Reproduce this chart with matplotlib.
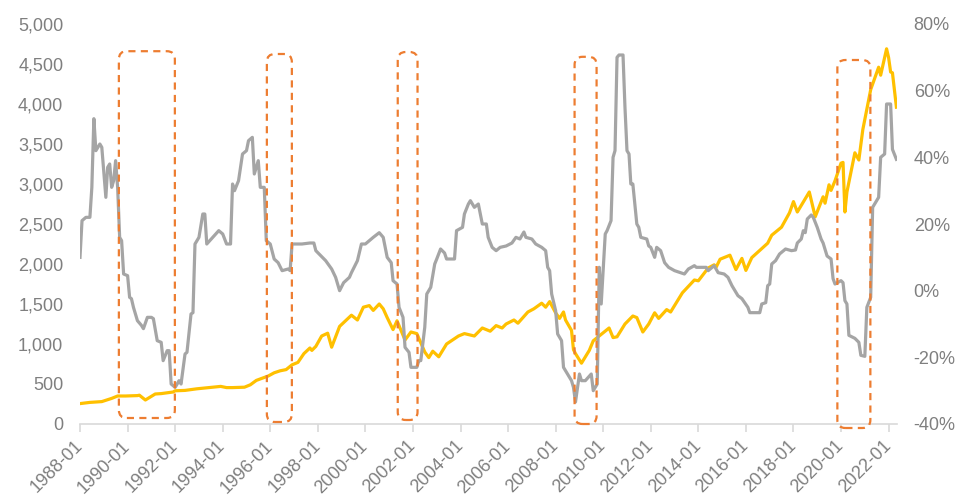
import matplotlib
matplotlib.use("Agg")
import matplotlib.pyplot as plt
import matplotlib.dates as mdates
from matplotlib.patches import FancyBboxPatch
from matplotlib.transforms import IdentityTransform
from matplotlib.ticker import FuncFormatter, MultipleLocator
import pandas as pd

# Index level (left axis)
index_dates = [
    "1988-01", "1988-06", "1988-12", "1989-05", "1989-08", "1989-12", "1990-06", "1990-07",
    "1990-10", "1990-12", "1991-03", "1991-06", "1991-12", "1992-01", "1992-06", "1992-12",
    "1993-06", "1993-09", "1993-12", "1994-03", "1994-06", "1994-12", "1995-03", "1995-06",
    "1995-12", "1996-03", "1996-06", "1996-09", "1996-12", "1997-03", "1997-06", "1997-09",
    "1997-10", "1997-12", "1998-03", "1998-06", "1998-08", "1998-12", "1999-03", "1999-06",
    "1999-09", "1999-12", "2000-03", "2000-05", "2000-08", "2000-10", "2000-12", "2001-03",
    "2001-05", "2001-06", "2001-09", "2001-12", "2002-03", "2002-07", "2002-09", "2002-11",
    "2003-02", "2003-06", "2003-12", "2004-03", "2004-08", "2004-12", "2005-04", "2005-07",
    "2005-10", "2005-12", "2006-04", "2006-06", "2006-11", "2007-02", "2007-06", "2007-08",
    "2007-10", "2008-01", "2008-03", "2008-05", "2008-06", "2008-09", "2008-10", "2008-11",
    "2009-02", "2009-06", "2009-08", "2009-12", "2010-04", "2010-06", "2010-08", "2010-12",
    "2011-04", "2011-06", "2011-09", "2011-12", "2012-03", "2012-05", "2012-09", "2012-11",
    "2013-05", "2013-11", "2014-01", "2014-06", "2014-09", "2014-10", "2014-12", "2015-05",
    "2015-08", "2015-11", "2016-01", "2016-04", "2016-08", "2016-12", "2017-02", "2017-07",
    "2017-11", "2018-01", "2018-03", "2018-09", "2018-12", "2019-04", "2019-05", "2019-07",
    "2019-08", "2019-10", "2020-01", "2020-02", "2020-03", "2020-04", "2020-08", "2020-10",
    "2020-12", "2021-04", "2021-08", "2021-09", "2021-12", "2022-01", "2022-02", "2022-03",
    "2022-05",
]
index_values = [
    255, 270, 280, 320, 350, 350, 355, 360,
    300, 330, 375, 380, 400, 415, 420, 440,
    455, 462, 470, 455, 455, 460, 490, 545,
    600, 640, 665, 680, 740, 770, 880, 950,
    920, 970, 1100, 1135, 960, 1220, 1290, 1360,
    1300, 1460, 1480, 1420, 1500, 1440, 1330, 1180,
    1290, 1230, 1050, 1150, 1130, 900, 830, 910,
    840, 1000, 1100, 1130, 1100, 1200, 1160, 1230,
    1200, 1250, 1300, 1260, 1400, 1440, 1510, 1460,
    1530, 1390, 1320, 1400, 1300, 1170, 930, 880,
    760, 920, 1040, 1120, 1200, 1080, 1090, 1250,
    1350, 1330, 1150, 1250, 1390, 1320, 1430, 1400,
    1640, 1800, 1790, 1950, 1990, 1960, 2060, 2110,
    1930, 2070, 1920, 2080, 2170, 2260, 2360, 2460,
    2640, 2780, 2650, 2900, 2590, 2840, 2760, 2990,
    2920, 3040, 3260, 3270, 2650, 2900, 3390, 3300,
    3680, 4180, 4460, 4360, 4690, 4580, 4400, 4390,
    3960,
]

# Year-on-year growth, % (right axis)
growth_dates = [
    "1988-01", "1988-02", "1988-04", "1988-06", "1988-07", "1988-08", "1988-09", "1988-11",
    "1988-12", "1989-02", "1989-03", "1989-04", "1989-05", "1989-06", "1989-07", "1989-08",
    "1989-09", "1989-10", "1989-11", "1990-01", "1990-02", "1990-03", "1990-04", "1990-06",
    "1990-08", "1990-09", "1990-11", "1991-01", "1991-02", "1991-04", "1991-06", "1991-07",
    "1991-09", "1991-10", "1991-11", "1992-01", "1992-02", "1992-03", "1992-04", "1992-06",
    "1992-07", "1992-09", "1992-10", "1992-11", "1993-01", "1993-03", "1993-04", "1993-05",
    "1993-08", "1993-11", "1994-01", "1994-03", "1994-05", "1994-06", "1994-07", "1994-09",
    "1994-11", "1995-01", "1995-02", "1995-04", "1995-05", "1995-07", "1995-08", "1995-10",
    "1995-11", "1996-01", "1996-03", "1996-05", "1996-07", "1996-10", "1996-11", "1996-12",
    "1997-05", "1997-09", "1997-11", "1997-12", "1998-05", "1998-08", "1998-10", "1998-12",
    "1999-02", "1999-05", "1999-06", "1999-09", "1999-11", "2000-01", "2000-03", "2000-05",
    "2000-08", "2000-10", "2000-12", "2001-02", "2001-03", "2001-05", "2001-06", "2001-08",
    "2001-09", "2001-11", "2001-12", "2002-03", "2002-04", "2002-05", "2002-07", "2002-08",
    "2002-10", "2002-12", "2003-01", "2003-03", "2003-05", "2003-06", "2003-10", "2003-11",
    "2004-02", "2004-03", "2004-05", "2004-06", "2004-08", "2004-10", "2004-12", "2005-02",
    "2005-03", "2005-05", "2005-07", "2005-09", "2005-12", "2006-03", "2006-05", "2006-07",
    "2006-09", "2006-10", "2007-01", "2007-03", "2007-06", "2007-08", "2007-09", "2007-10",
    "2007-11", "2008-01", "2008-02", "2008-04", "2008-05", "2008-07", "2008-09", "2008-10",
    "2008-11", "2009-01", "2009-02", "2009-04", "2009-07", "2009-08", "2009-10", "2009-11",
    "2009-12", "2010-02", "2010-03", "2010-05", "2010-06", "2010-07", "2010-08", "2010-09",
    "2010-11", "2010-12", "2011-01", "2011-02", "2011-03", "2011-04", "2011-06", "2011-07",
    "2011-08", "2011-11", "2011-12", "2012-01", "2012-03", "2012-04", "2012-06", "2012-08",
    "2012-10", "2013-01", "2013-06", "2013-08", "2013-11", "2013-12", "2014-05", "2014-06",
    "2014-09", "2014-11", "2015-02", "2015-04", "2015-06", "2015-09", "2015-11", "2016-02",
    "2016-03", "2016-08", "2016-09", "2016-11", "2016-12", "2017-01", "2017-02", "2017-04",
    "2017-06", "2017-09", "2017-12", "2018-02", "2018-03", "2018-05", "2018-06", "2018-07",
    "2018-08", "2018-10", "2018-11", "2019-01", "2019-03", "2019-04", "2019-06", "2019-08",
    "2019-09", "2019-10", "2020-01", "2020-02", "2020-03", "2020-04", "2020-05", "2020-07",
    "2020-08", "2020-10", "2020-11", "2021-01", "2021-02", "2021-04", "2021-05", "2021-07",
    "2021-08", "2021-09", "2021-11", "2021-12", "2022-02", "2022-03", "2022-05",
]
growth_values = [
    10, 21, 22, 22, 31, 51.6, 42, 44,
    43, 28, 37, 38, 31, 33, 39, 31,
    16, 15, 5, 4.5, -2, -2.4, -5, -9,
    -10.4, -11.4, -8, -8, -8.4, -15, -15.5, -21,
    -18, -18, -28, -29, -28, -27, -28, -19,
    -18.5, -7, -6.6, 14, 16, 23, 23, 14,
    16, 18, 17, 14, 14, 32, 30, 33,
    41, 42, 45, 46, 35, 39, 31, 31,
    15, 14, 9.5, 8.4, 6, 6.5, 6, 14,
    14, 14.3, 14.3, 12, 9, 6.5, 4, 0,
    2.4, 4, 5.4, 9, 14, 14, 15, 16,
    17.4, 16, 10, 8.4, 3, 2, -5, -8,
    -17, -18.5, -23, -23, -21, -21, -11, -1,
    1, 8, 9.5, 12.5, 11.3, 9.5, 9.5, 18,
    19, 23, 26, 27, 25, 26, 20, 20,
    16, 13, 12, 13, 13.4, 14.3, 16, 15.5,
    17.6, 16, 15.5, 14, 13, 12, 7, 6,
    -1, -6, -13, -15, -23, -25, -27, -29,
    -33.4, -25, -27, -27, -25, -30, -28, 7,
    -4, 17, 18, 21, 40, 42, 70, 70.7,
    70.7, 55, 42, 41, 32, 32, 20, 19,
    16, 15.5, 13.4, 13, 10, 13, 12, 8.4,
    7, 6, 5, 6.5, 7.5, 7, 7, 6,
    7.5, 5.4, 5, 4, 1.5, -1.5, -2.4, -5,
    -6.6, -6.6, -4, -3.6, 1.5, 2, 8, 9,
    11, 12.5, 12, 12.2, 14.3, 15.5, 18, 17.4,
    21.5, 22.7, 22, 19, 15.5, 14.3, 10.4, 9.5,
    3.6, 2, 3, 2.4, -3, -4, -13.4, -14,
    -14.3, -15.5, -19.4, -19.7, -5, -2, 25, 27,
    28, 40, 41, 56, 56, 42.4, 39.4,
]

# Highlighted downturn windows: (start, end, top, bottom) on the left scale
highlight_windows = [
    ("1989-08-20", "1991-12-28", 4660, 75),
    ("1995-11-10", "1996-11-28", 4625, 25),
    ("2001-05-12", "2002-03-12", 4650, 50),
    ("2008-10-18", "2009-09-21", 4590, 0),
    ("2019-11-06", "2021-03-27", 4550, -50),
]

x_ticks = [f"{y}-01" for y in range(1988, 2023, 2)]

TICK_COLOR = "#7f7f7f"
AXIS_COLOR = "#d9d9d9"
FONT = "Liberation Sans"
FSIZE = 13

W, H = 957, 499
fig = plt.figure(figsize=(W / 100, H / 100), dpi=100)
ax = fig.add_axes([80 / W, 1 - 424 / H, 817 / W, 400 / H])
ax2 = ax.twinx()

idx_x = pd.to_datetime(index_dates)
gr_x = pd.to_datetime(growth_dates)

ax.plot(idx_x, index_values, color="#ffc000", lw=2.3, solid_joinstyle="round", zorder=3)
ax2.plot(gr_x, [v / 100 for v in growth_values], color="#a5a5a5", lw=2.3,
         solid_joinstyle="round", zorder=3)

ax.set_xlim(pd.Timestamp("1988-01-01"), pd.Timestamp("2022-05-10"))
ax.set_ylim(0, 5000)
ax2.set_ylim(-0.4, 0.8)

ax.yaxis.set_major_locator(MultipleLocator(500))
ax.yaxis.set_major_formatter(FuncFormatter(lambda v, p: f"{int(v):,}"))
ax2.yaxis.set_major_locator(MultipleLocator(0.2))
ax2.yaxis.set_major_formatter(FuncFormatter(lambda v, p: f"{round(v * 100):d}%"))

ax.set_xticks(pd.to_datetime(x_ticks))
ax.set_xticklabels(x_ticks, rotation=45, ha="right", va="center",
                   rotation_mode="anchor", family=FONT, fontsize=FSIZE, color=TICK_COLOR)
ax.tick_params(axis="x", length=6, width=1.2, color=AXIS_COLOR, pad=8)
ax.tick_params(axis="y", length=0, pad=12, labelsize=FSIZE, labelcolor=TICK_COLOR)
ax2.tick_params(axis="y", length=0, pad=12, labelsize=FSIZE, labelcolor=TICK_COLOR)
for lab in ax.get_yticklabels() + ax2.get_yticklabels():
    lab.set_family(FONT)

for a in (ax, ax2):
    for side in ("top", "left", "right"):
        a.spines[side].set_visible(False)
    a.spines["bottom"].set_color(AXIS_COLOR)
    a.spines["bottom"].set_linewidth(1.2)
ax2.spines["bottom"].set_visible(False)

# Rounded dashed frames around the downturn windows
for start, end, top, bottom in highlight_windows:
    x0, y0 = ax.transData.transform((mdates.date2num(pd.Timestamp(start)), bottom))
    x1, y1 = ax.transData.transform((mdates.date2num(pd.Timestamp(end)), top))
    box = FancyBboxPatch((x0, y0), x1 - x0, y1 - y0,
                         boxstyle="round,pad=0,rounding_size=8",
                         transform=IdentityTransform(), fill=False,
                         edgecolor="#ed7d31", lw=1.6, linestyle=(0, (3.2, 2.4)),
                         zorder=10)
    fig.add_artist(box)

fig.savefig("out.png", dpi=100, facecolor="white")
